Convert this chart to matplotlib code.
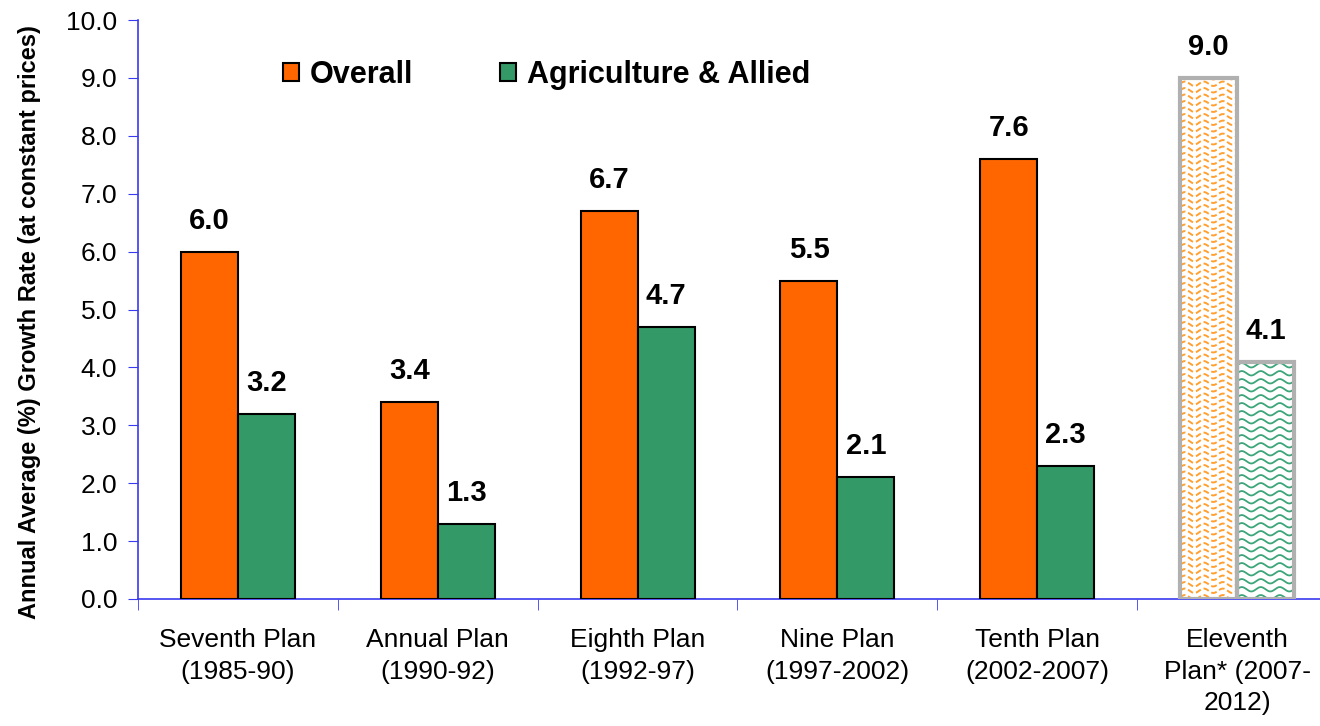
import numpy as np
import matplotlib
matplotlib.use('Agg')
import matplotlib.pyplot as plt
from matplotlib.patches import Rectangle

plans = ['Seventh Plan\n(1985-90)', 'Annual Plan\n(1990-92)', 'Eighth Plan\n(1992-97)',
         'Nine Plan\n(1997-2002)', 'Tenth Plan\n(2002-2007)', 'Eleventh\nPlan* (2007-\n2012)']
overall = [6.0, 3.4, 6.7, 5.5, 7.6, 9.0]
agri = [3.2, 1.3, 4.7, 2.1, 2.3, 4.1]
# last plan is a target, drawn with a wavy texture
projected = [False, False, False, False, False, True]

ORANGE = '#FF6600'
GREEN = '#339966'
AXIS_BLUE = '#3A3AF0'

plt.rcParams['font.family'] = ['Liberation Sans', 'DejaVu Sans']

fig = plt.figure(figsize=(13.2, 7.26), dpi=100)
ax = fig.add_axes([138 / 1320, 127 / 726, 1199 / 1320, 579 / 726])

x = np.arange(len(plans))
w = 0.285


def wavy(bar, color, spacing_px, style, lw):
    # draw wavy lines inside a bar, clipped to the bar outline
    x0, w0, h0 = bar.get_x(), bar.get_width(), bar.get_height()
    xs = np.linspace(x0, x0 + w0, 300)
    lam = 19 / 200.0
    amp = 2.2 / 57.9
    for y0 in np.arange(0.03, h0 + 0.1, spacing_px / 57.9):
        ys = y0 + amp * np.sin(2 * np.pi * (xs - x0) / lam)
        ln, = ax.plot(xs, ys, color=color, lw=lw, ls=style, zorder=2)
        ln.set_clip_path(bar)


for i in range(len(plans)):
    if projected[i]:
        b1 = ax.bar(x[i] - w / 2, overall[i], w, color='white', edgecolor='#B0B0B0',
                    linewidth=3, zorder=3)[0]
        b1.set_facecolor('none')
        b2 = ax.bar(x[i] + w / 2, agri[i], w, color='white', edgecolor='#B0B0B0',
                    linewidth=3, zorder=3)[0]
        b2.set_facecolor('none')
        wavy(b1, '#FFA030', 6.5, (0, (3, 1.5)), 1.4)
        wavy(b2, '#3DA57A', 8.0, '-', 1.3)
    else:
        ax.bar(x[i] - w / 2, overall[i], w, color=ORANGE, edgecolor='black', linewidth=1.5, zorder=3)
        ax.bar(x[i] + w / 2, agri[i], w, color=GREEN, edgecolor='black', linewidth=1.5, zorder=3)

for i in range(len(plans)):
    for xv, v in [(x[i] - w / 2, overall[i]), (x[i] + w / 2, agri[i])]:
        ax.annotate('%.1f' % v, (xv, v), xytext=(0, 31), textcoords='offset pixels',
                    ha='center', va='center', fontsize=21, fontweight='bold')

ax.set_xlim(-0.5, 5.5)
ax.set_ylim(0, 10)
ax.set_yticks(np.arange(0, 10.5, 1.0))
ax.set_yticklabels(['%.1f' % t for t in np.arange(0, 10.5, 1.0)], fontsize=19)
ax.set_xticks(x)
ax.set_xticklabels(plans, fontsize=19, linespacing=1.4)
ax.set_xticks(np.arange(-0.5, 5.6, 1.0), minor=True)
ax.tick_params(axis='x', which='major', length=0, pad=21)
ax.tick_params(axis='x', which='minor', length=8, color=AXIS_BLUE, direction='out')
ax.tick_params(axis='y', length=7, color=AXIS_BLUE, direction='out', pad=8)

for s in ['top', 'right']:
    ax.spines[s].set_visible(False)
for s in ['left', 'bottom']:
    ax.spines[s].set_color(AXIS_BLUE)
    ax.spines[s].set_linewidth(1.2)

fig.text(30 / 1320, 1 - 322 / 726, 'Annual Average (%) Growth Rate (at constant prices)',
         rotation=90, ha='center', va='center', fontsize=17, fontweight='bold')

handles = [Rectangle((0, 0), 1, 1, facecolor=ORANGE, edgecolor='black', linewidth=1.5),
           Rectangle((0, 0), 1, 1, facecolor=GREEN, edgecolor='black', linewidth=1.5)]
fig.legend(handles, ['Overall', 'Agriculture & Allied'], loc='center left',
           bbox_to_anchor=(283 / 1320, 1 - 75 / 726), ncol=2, frameon=False,
           prop={'weight': 'bold', 'size': 22}, handlelength=0.52, handleheight=0.52,
           handletextpad=0.36, columnspacing=2.85, borderpad=0, borderaxespad=0)

fig.savefig('out.png', dpi=100)
